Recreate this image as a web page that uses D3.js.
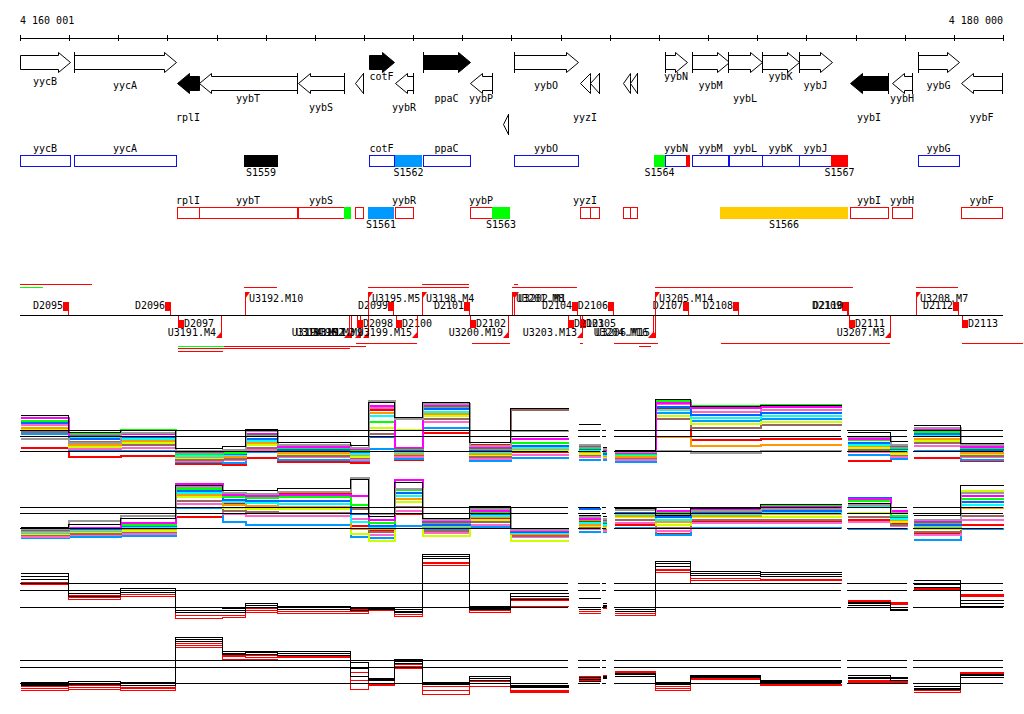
<!DOCTYPE html>
<html><head><meta charset="utf-8">
<script src="https://cdn.jsdelivr.net/npm/d3@7"></script>
<style>
html,body{margin:0;padding:0;background:#fff;}
svg{display:block;}
text{font-family:"DejaVu Sans Mono","Liberation Mono",monospace;font-size:10px;fill:#000;}
</style></head><body>
<svg id="chart" width="1024" height="714"></svg>
<script>
// ---------------- DATA ----------------
const genomeDomain = [4160001, 4180000];
const axisTicks = [4160001,4161000,4162000,4163000,4164000,4165000,4166000,4167000,4168000,4169000,4170000,
  4171000,4172000,4173000,4174000,4175000,4176000,4177000,4178000,4179000,4180000];
const axisEndLabels = [4160001, 4180000];

// genes: name, start, end, strand, row(0 fwd,1 rev,2 rev-lower), filled, startBar, labelTier(-1 none)
const genes = [
  ["yycB",4160001,4161018,"+",0,0,0,1],
  ["yycA",4161100,4163175,"+",0,0,1,2],
  ["rplI",4163195,4163643,"-",1,1,0,5],
  ["yybT",4163643,4165637,"-",1,0,1,3],
  ["yybS",4165657,4166593,"-",1,0,1,4],
  ["",    4166817,4166980,"-",1,0,1,-1],
  ["cotF",4167101,4167610,"+",0,1,0,0],
  ["yybR",4167630,4167997,"-",1,0,1,4],
  ["ppaC",4168200,4169156,"+",0,1,1,3],
  ["yybP",4169156,4169604,"-",1,0,1,3],
  ["",    4169828,4169930,"-",2,0,1,-1],
  ["yybO",4170051,4171353,"+",0,0,1,2],
  ["yyzI",4171394,4171598,"-",1,0,0,5],
  ["",    4171598,4171781,"-",1,0,1,-1],
  ["",    4172269,4172411,"-",1,0,0,-1],
  ["",    4172411,4172554,"-",1,0,1,-1],
  ["yybN",4173124,4173571,"+",0,0,1,0],
  ["yybM",4173673,4174426,"+",0,0,1,2],
  ["yybL",4174405,4175097,"+",0,0,1,3],
  ["yybK",4175097,4175850,"+",0,0,1,0],
  ["yybJ",4175850,4176521,"+",0,0,1,2],
  ["yybI",4176887,4177660,"-",1,1,1,5],
  ["yybH",4177742,4178148,"-",1,0,1,3],
  ["yybG",4178270,4179105,"+",0,0,1,2],
  ["yybF",4179145,4179979,"-",1,0,1,5]
];

// sites: name, start, end, strand, colour
const sites = [
  ["S1559",4164558,4165250,"+","#000000"],
  ["S1562",4167630,4168180,"+","#0099ff"],
  ["S1564",4172900,4173124,"+","#00ff00"],
  ["",     4173551,4173632,"+","#ff0000"],
  ["S1567",4176501,4176847,"+","#ff0000"],
  ["",     4166593,4166735,"-","#00ff00"],
  ["S1561",4167081,4167610,"-","#0099ff"],
  ["S1563",4169604,4169970,"-","#00ff00"],
  ["S1566",4174243,4176847,"-","#ffcc00"]
];

// transcription start/end marks
const dForward = [["D2095",4160978],["D2096",4163053],["D2099",4167590],["D2101",4169136],["D2104",4171333],
  ["D2106",4172065],["D2107",4173591],["D2108",4174609],["D2109",4176826],["D2110",4176847],["D2112",4179085]];
const dReverse = [["D2097",4163216],["D2098",4166857],["D2100",4167651],["D2102",4169156],["D2103",4171150],
  ["D2105",4171394],["D2111",4176867],["D2113",4179166]];
const uForward = [["U3192.M10",4164578],["U3195.M5",4167081],["U3198.M4",4168180],["U3201.M8",4170011],
  ["U3202.M1",4170051],["U3205.M14",4172920],["U3208.M7",4178230]];
const uReverse = [["U3191.M4",4164090],["U3193.M2",4166694],["U3194.M11",4166735],["U3196.M3",4166918],
  ["U3197.M9",4167081],["U3199.M15",4168078],["U3200.M19",4169929],["U3203.M13",4171435],
  ["U3204.M16",4172879],["U3206.M15",4172920],["U3207.M3",4177701]];
// transcription unit extents: start, end, strand, level, colour
const tuLines = [
  [4160001,4161466,"+",1,"#ff0000"],[4160001,4160469,"+",0,"#00ff00"],[4164558,4165230,"+",0,"#ff0000"],
  [4167081,4169136,"+",0,"#ff0000"],[4168180,4169136,"+",1,"#ff0000"],[4170011,4171333,"+",0,"#ff0000"],
  [4170051,4170133,"+",1,"#ff0000"],[4172920,4176948,"+",0,"#ff0000"],[4178230,4179085,"+",0,"#ff0000"],
  [4163215,4164151,"-",1,"#00ff00"],[4164151,4167040,"-",1,"#ff0000"],[4163215,4166715,"-",2,"#ff0000"],
  [4163215,4164131,"-",3,"#ff0000"],[4166837,4168078,"-",0,"#ff0000"],[4169197,4169970,"-",0,"#ff0000"],
  [4171394,4171455,"-",0,"#ff0000"],[4172086,4172981,"-",0,"#ff0000"],[4172594,4172839,"-",1,"#ff0000"],
  [4174263,4177701,"-",0,"#ff0000"],[4179166,4180407,"-",0,"#ff0000"]
];

// expression profile segments (genome intervals with data)
const segStarts = [4160001,4160977,4162036,4163154,4164111,4164579,4165230,4166715,4167081,4167610,4168180,4169136,
  4169970,4171353,4171842,4172086,4172920,4173632,4175056,4176826,4177701,4178169,4179125];
const segEnds   = [4160977,4162036,4163154,4164111,4164579,4165230,4166715,4167081,4167610,4168180,4169136,4169970,
  4171150,4171801,4171923,4172920,4173632,4175056,4176704,4177701,4178047,4179125,4180000];
const refLevels = [0, 1, 1.41];

// rows = segments, columns = conditions (12 series)
const seriesColorsAB = ["#000000","#999999","#ff00ff","#00ff00","#0066ff","#00ffff","#ff9900","#ccff00","#996666","#ff66cc","#0099ff","#ff0000"];
const trackA = [
  [2.4,0.9,2.3,2.1,1.95,2.25,1.6,1.5,1.35,1.8,1.2,0.3],
  [1.25,0.6,1.1,1.2,0.85,1.0,0.5,0.35,0.7,0.2,0.05,-0.3],
  [1.4,1.3,1.2,1.45,1.0,0.9,0.75,0.6,0.45,0.3,0.1,-0.25],
  [0.2,0.1,0.0,-0.1,-0.15,-0.25,-0.3,-0.4,-0.5,-0.6,-0.7,-0.8],
  [0.35,0.15,0.05,-0.05,-0.15,-0.2,-0.3,-0.35,-0.45,-0.55,-0.75,-0.9],
  [1.5,1.4,1.2,1.05,0.9,0.75,0.6,0.45,0.3,0.15,0.0,-0.4],
  [0.6,0.5,0.35,0.25,0.15,0.05,-0.05,-0.15,-0.25,-0.35,-0.5,-0.7],
  [0.4,0.3,0.2,0.1,0.0,-0.1,-0.2,-0.3,-0.4,-0.5,-0.6,-0.75],
  [3.3,3.4,3.1,2.0,1.0,2.4,2.6,1.6,1.2,2.9,0.2,2.8],
  [2.27,2.2,0.3,0.2,0.1,0.0,-0.1,1.5,-0.2,-0.3,-0.45,-0.55],
  [3.3,3.2,3.1,3.0,2.85,2.7,2.55,2.4,2.2,2.0,1.6,1.27],
  [0.6,0.4,0.3,0.2,0.1,0.0,-0.1,-0.2,-0.3,-0.45,-0.6,0.5],
  [2.87,1.4,0.9,0.6,0.4,0.3,0.2,0.1,2.8,-0.2,-0.4,0.0],
  [1.8,0.5,0.4,0.3,0.2,0.1,0.0,-0.1,-0.2,-0.3,-0.5,-0.1],
  [0.3,0.2,0.1,0.0,-0.1,-0.2,-0.25,-0.3,-0.35,-0.4,-0.5,-0.2],
  [0.1,0.0,-0.05,-0.1,-0.15,-0.2,-0.3,-0.35,-0.4,-0.5,-0.65,0.05],
  [3.45,0.07,3.3,3.4,3.0,2.8,1.0,2.4,2.2,3.2,2.6,2.9],
  [3.0,-0.07,2.9,3.05,2.5,2.3,0.4,1.9,1.6,2.7,2.1,0.8],
  [3.1,0.1,3.0,3.15,2.6,2.4,0.5,2.0,1.8,2.8,2.2,0.9],
  [1.27,1.0,0.9,0.8,0.6,0.5,0.4,0.3,0.15,0.0,-0.2,-0.6],
  [0.7,0.5,0.4,0.3,0.2,0.1,0.0,-0.1,-0.2,-0.3,-0.45,-0.3],
  [1.75,1.6,1.5,1.35,1.2,1.05,0.9,0.75,0.6,0.4,0.1,-0.4],
  [0.55,0.45,0.35,0.25,0.15,0.05,-0.05,-0.15,-0.25,-0.35,-0.5,-0.6]
];
const trackB = [
  [0.05,0.0,-0.05,-0.1,-0.15,-0.2,-0.25,-0.3,-0.4,-0.5,-0.6,-0.45],
  [0.3,0.55,0.1,0.05,0.0,-0.05,-0.1,-0.2,-0.3,-0.4,-0.55,-0.3],
  [0.7,0.9,0.4,0.3,0.2,0.1,0.0,-0.1,-0.2,-0.3,-0.45,-0.2],
  [2.9,2.8,3.0,2.7,2.55,2.4,2.25,2.1,1.9,1.7,1.4,0.8],
  [2.55,2.4,2.3,2.1,1.95,1.8,1.6,1.4,1.2,1.0,0.5,1.7],
  [2.55,2.35,2.2,2.05,1.9,1.75,1.55,1.35,1.15,0.9,0.3,2.3],
  [2.65,2.5,2.3,2.1,1.9,1.7,1.5,1.3,1.1,0.9,0.3,2.4],
  [3.3,3.4,2.2,1.6,1.0,0.5,0.0,-0.3,1.3,0.7,-0.5,0.2],
  [0.8,1.0,0.6,0.4,0.2,0.1,0.0,-0.8,-0.2,-0.4,-0.6,-0.1],
  [3.1,2.7,3.3,2.6,2.4,2.2,2.0,1.8,1.5,1.2,0.2,1.0],
  [0.7,0.6,0.5,0.4,0.3,0.2,0.1,-0.45,-0.1,-0.25,0.0,0.6],
  [1.45,1.3,1.2,1.1,1.0,0.9,0.8,0.6,0.45,0.3,0.15,0.7],
  [0.0,-0.05,-0.1,-0.15,-0.2,-0.25,-0.3,-0.8,-0.45,-0.55,-0.35,-0.2],
  [0.9,0.8,0.7,0.6,1.3,0.4,0.3,0.2,0.1,0.0,-0.2,0.5],
  [0.8,0.7,0.6,0.5,0.4,0.3,0.2,0.1,0.0,-0.1,-0.2,0.3],
  [1.35,1.25,1.3,1.4,1.1,1.0,0.9,0.8,0.6,0.4,0.1,0.3],
  [0.9,1.0,1.2,1.1,0.8,0.6,0.5,0.3,0.1,-0.1,-0.4,-0.3],
  [1.3,1.2,1.35,1.4,1.1,1.0,0.9,0.8,0.6,0.4,0.1,0.5],
  [1.6,1.3,1.5,1.55,1.2,1.1,1.0,0.8,0.6,0.4,0.1,0.5],
  [1.7,1.6,2.0,1.9,2.05,1.5,2.07,1.1,0.8,0.5,0.0,0.6],
  [1.0,1.1,1.2,0.9,0.8,0.7,0.6,0.5,0.3,0.2,0.0,0.4],
  [0.9,0.6,0.5,0.4,0.3,0.2,0.1,0.0,-0.2,-0.4,-0.7,-0.3],
  [2.85,2.4,2.2,2.0,1.8,1.6,1.4,2.55,0.9,0.6,0.0,0.3]
];
// rows = segments, columns = 3 black + 3 red replicates
const seriesColorsCD = ["#000000","#000000","#000000","#ff0000","#ff0000","#ff0000"];
const trackC = [
  [1.98,1.8,1.62,1.5,1.44,1.38],[1.02,0.84,0.66,0.72,0.6,0.48],[1.14,1.02,0.9,0.9,0.78,0.66],
  [0,-0.18,-0.3,-0.3,-0.48,-0.66],[-0.06,-0.18,-0.3,-0.3,-0.48,-0.6],[0.24,0.12,0,-0.06,-0.18,-0.3],
  [0.06,0,-0.12,-0.12,-0.24,-0.36],[0,-0.06,-0.18,-0.12,-0.24,-0.36],[0,-0.06,-0.12,-0.06,-0.12,-0.18],
  [-0.12,-0.24,-0.3,-0.3,-0.42,-0.54],[3.11,2.99,2.87,2.63,2.57,2.46],[0.06,-0.06,-0.12,-0.12,-0.18,-0.3],
  [0.84,0.66,0.48,0.54,0.42,0.06],[0.54,0,-0.12,-0.12,-0.24,-0.36],[0.24,0.12,0.06,0.06,0,-0.06],
  [0,-0.12,-0.24,-0.24,-0.36,-0.48],[2.7,2.57,2.4,2.22,2.16,2.04],[2.1,1.98,1.86,1.68,1.56,1.44],
  [2.04,1.92,1.8,1.62,1.56,1.44],[0.3,0.24,0.12,0.42,0.36,0.3],[0,-0.12,-0.18,0.3,0.24,0.18],
  [1.56,1.38,1.2,1.14,1.08,1.02],[0.42,0.24,0.06,0.78,0.72,0.66]
];
const trackD = [
  [0.06,-0.06,-0.12,-0.18,-0.31,-0.43],[0.12,0,-0.06,-0.12,-0.25,-0.37],[0.06,0,-0.12,-0.25,-0.31,-0.43],
  [2.88,2.76,2.64,2.52,2.39,2.27],[2.02,1.9,1.84,1.72,1.66,1.53],[2.02,1.96,1.84,1.72,1.6,1.53],
  [2.02,1.9,1.78,1.66,1.6,1.41],[1.29,0.92,0.43,0.67,0.18,-0.37],[0.31,0.25,0.18,0,-0.06,-0.12],
  [1.47,1.35,1.23,1.17,1.04,0.92],[0.06,0,-0.06,-0.18,-0.43,-0.67],[0.43,0.31,0.18,0.12,0,-0.18],
  [-0.12,-0.18,-0.25,-0.43,-0.49,-0.55],[0.37,0.25,0.12,0.43,0.31,0.18],[0.43,0.37,0.31,0.49,0.43,0.37],
  [0.61,0.55,0.43,0.74,0.67,0.61],[0.06,0,-0.06,-0.18,-0.31,-0.43],[0.49,0.43,0.37,0.37,0.31,0.25],
  [0.18,0.12,0.06,0.06,-0.06,-0.12],[0.49,0.37,0.31,0.18,0.12,0.06],[0.37,0.31,0.18,0.12,0.06,0],
  [-0.18,-0.31,-0.37,-0.37,-0.43,-0.55],[0.55,0.49,0.37,0.67,0.61,0.55]
];

// ---------------- DRAWING ----------------
const svg = d3.select("#chart");
const x = d3.scaleLinear().domain(genomeDomain).range([20, 1003]);
const X = v => Math.round(x(v)) + 0.5;
const fmt = d3.formatLocale({decimal:".", thousands:" ", grouping:[3], currency:["",""]}).format(",");

// axis
const axisG = svg.append("g").attr("transform", "translate(0,38)");
axisG.call(d3.axisBottom(x).tickValues(axisTicks).tickSizeInner(3).tickSizeOuter(0).tickFormat(""));
axisG.selectAll(".tick line").attr("y1", -3).attr("y2", 3).attr("stroke", "#000");
axisG.select(".domain").attr("stroke", "#000");
axisG.attr("shape-rendering", "crispEdges");
svg.append("g").selectAll("text").data(axisEndLabels).join("text")
  .attr("x", (d, i) => x(d)).attr("y", 24)
  .attr("text-anchor", (d, i) => i === 0 ? "start" : "end")
  .text(d => fmt(d));

// gene arrows
const rowCenter = [62, 83, 124];
const tierBaseline = [80, 85, 89, 102, 111, 121];
function arrowPath(x0, x1, strand, cy) {
  const hh = 10, bh = 7, head = Math.min(12, x1 - x0);
  if (strand === "+") {
    const hx = x1 - head;
    return `M${x0},${cy-bh}L${hx},${cy-bh}L${hx},${cy-hh}L${x1},${cy}L${hx},${cy+hh}L${hx},${cy+bh}L${x0},${cy+bh}Z`;
  }
  const hx = x0 + head;
  return `M${x1},${cy-bh}L${hx},${cy-bh}L${hx},${cy-hh}L${x0},${cy}L${hx},${cy+hh}L${hx},${cy+bh}L${x1},${cy+bh}Z`;
}
const geneG = svg.append("g");
geneG.selectAll("path").data(genes).join("path")
  .attr("d", g => arrowPath(Math.round(x(g[1])) + 0.5, Math.round(x(g[2])) + 0.5, g[3], rowCenter[g[4]] + 0.5))
  .attr("fill", g => g[5] ? "#000" : "#fff").attr("stroke", "#000").attr("stroke-width", 1);
geneG.selectAll("line").data(genes.filter(g => g[6])).join("line")
  .attr("x1", g => X(g[3] === "+" ? g[1] : g[2])).attr("x2", g => X(g[3] === "+" ? g[1] : g[2]))
  .attr("y1", g => rowCenter[g[4]] - 10).attr("y2", g => rowCenter[g[4]] + 11)
  .attr("stroke", "#000").attr("shape-rendering", "crispEdges");
geneG.selectAll("text").data(genes.filter(g => g[7] >= 0)).join("text")
  .attr("x", g => (x(g[1]) + x(g[2])) / 2).attr("y", g => tierBaseline[g[7]])
  .attr("text-anchor", "middle").text(g => g[0]);

// gene boxes
const boxTop = {"+": 155, "-": 207};
const boxG = svg.append("g");
const boxGenes = genes.filter(g => g[4] < 2);
boxG.selectAll("rect").data(boxGenes).join("rect")
  .attr("x", g => X(g[1])).attr("width", g => Math.max(1, Math.round(x(g[2])) - Math.round(x(g[1]))))
  .attr("y", g => boxTop[g[3]] + 0.5).attr("height", 11)
  .attr("fill", "none").attr("stroke", g => g[3] === "+" ? "#1010ee" : "#ff0000")
  .attr("shape-rendering", "crispEdges");
boxG.selectAll("text").data(boxGenes.filter(g => g[0])).join("text")
  .attr("x", g => (x(g[1]) + x(g[2])) / 2).attr("y", g => boxTop[g[3]] - 3)
  .attr("text-anchor", "middle").text(g => g[0]);

// sites
const siteG = svg.append("g");
siteG.selectAll("rect").data(sites).join("rect")
  .attr("x", s => Math.round(x(s[1]))).attr("width", s => Math.round(x(s[2])) - Math.round(x(s[1])))
  .attr("y", s => boxTop[s[3]]).attr("height", 12).attr("fill", s => s[4])
  .attr("shape-rendering", "crispEdges");
siteG.selectAll("text").data(sites.filter(s => s[0])).join("text")
  .attr("x", s => (x(s[1]) + x(s[2])) / 2).attr("y", s => boxTop[s[3]] + 21)
  .attr("text-anchor", "middle").text(s => s[0]);

// transcription section
const tsG = svg.append("g").attr("shape-rendering", "crispEdges");
const baseY = 315;
tsG.append("line").attr("x1", x(genomeDomain[0])).attr("x2", x(genomeDomain[1]))
  .attr("y1", baseY + 0.5).attr("y2", baseY + 0.5).attr("stroke", "#000");
const tuY = {"+": [287, 284], "-": [343, 346, 348, 351]};
tsG.selectAll(".tu").data(tuLines).join("line").attr("class", "tu")
  .attr("x1", t => x(t[0])).attr("x2", t => x(t[1]))
  .attr("y1", t => tuY[t[2]][t[3]] + 0.5).attr("y2", t => tuY[t[2]][t[3]] + 0.5)
  .attr("stroke", t => t[4]);
// D forward
const dfG = tsG.append("g");
dfG.selectAll("rect").data(dForward).join("rect")
  .attr("x", d => Math.round(x(d[1])) - 5).attr("y", 302).attr("width", 6).attr("height", 9).attr("fill", "#ff0000");
dfG.selectAll("line").data(dForward).join("line")
  .attr("x1", d => X(d[1])).attr("x2", d => X(d[1])).attr("y1", 302).attr("y2", baseY).attr("stroke", "#ff0000");
dfG.selectAll("text").data(dForward).join("text")
  .attr("x", d => x(d[1]) - 5).attr("y", 309).attr("text-anchor", "end").text(d => d[0]);
// D reverse
const drG = tsG.append("g");
drG.selectAll("rect").data(dReverse).join("rect")
  .attr("x", d => Math.round(x(d[1]))).attr("y", 320).attr("width", 6).attr("height", 8).attr("fill", "#ff0000");
drG.selectAll("line").data(dReverse).join("line")
  .attr("x1", d => X(d[1])).attr("x2", d => X(d[1])).attr("y1", baseY + 1).attr("y2", 328).attr("stroke", "#ff0000");
drG.selectAll("text").data(dReverse).join("text")
  .attr("x", d => x(d[1]) + 6).attr("y", 327).attr("text-anchor", "start").text(d => d[0]);
// U forward
const ufG = tsG.append("g");
ufG.selectAll("line").data(uForward).join("line")
  .attr("x1", d => X(d[1])).attr("x2", d => X(d[1])).attr("y1", 292).attr("y2", baseY).attr("stroke", "#ff0000");
ufG.selectAll("path").data(uForward).join("path")
  .attr("d", d => { const p = Math.round(x(d[1])); return `M${p},292L${p+5},292L${p},299Z`; })
  .attr("fill", "#ff0000").attr("shape-rendering", "auto");
ufG.selectAll("text").data(uForward).join("text")
  .attr("x", d => x(d[1]) + 4).attr("y", 302).text(d => d[0]);
// U reverse
const urG = tsG.append("g");
urG.selectAll("line").data(uReverse).join("line")
  .attr("x1", d => X(d[1])).attr("x2", d => X(d[1])).attr("y1", baseY + 1).attr("y2", 338).attr("stroke", "#ff0000");
urG.selectAll("path").data(uReverse).join("path")
  .attr("d", d => { const p = Math.round(x(d[1])) + 1; return `M${p},338L${p-6},338L${p},331Z`; })
  .attr("fill", "#ff0000").attr("shape-rendering", "auto");
urG.selectAll("text").data(uReverse).join("text")
  .attr("x", d => x(d[1]) - 5).attr("y", 336).attr("text-anchor", "end").text(d => d[0]);

// expression tracks
const islands = [];
segStarts.forEach((s, i) => {
  if (i === 0 || s !== segEnds[i - 1]) islands.push([s, segEnds[i]]);
  else islands[islands.length - 1][1] = segEnds[i];
});
const tracks = [
  {rows: trackA, colors: seriesColorsAB, base: 451, unit: 15, w: 2},
  {rows: trackB, colors: seriesColorsAB, base: 528, unit: 15, w: 2},
  {rows: trackC, colors: seriesColorsCD, base: 607, unit: 17, w: 1},
  {rows: trackD, colors: seriesColorsCD, base: 683, unit: 16, w: 1}
];
tracks.forEach(t => {
  const y = d3.scaleLinear().domain([0, 1]).range([t.base, t.base - t.unit]);
  const Y = v => Math.round(y(v)) + 0.5;
  const g = svg.append("g").attr("shape-rendering", "crispEdges");
  const nSeries = t.rows[0].length;
  const seriesIdx = d3.range(nSeries).reverse();
  const line = d3.line().defined(p => !p.gap).x(p => Math.round(x(p.x)) + 0.5).y(p => Y(p.v));
  seriesIdx.forEach(j => {
    const pts = [];
    t.rows.forEach((row, i) => {
      pts.push({x: segStarts[i], v: row[j]}, {x: segEnds[i], v: row[j]});
      if (i < t.rows.length - 1 && segStarts[i + 1] !== segEnds[i]) pts.push({gap: true});
    });
    g.append("path").attr("d", line(pts)).attr("fill", "none").attr("stroke", t.colors[j])
      .attr("stroke-width", j === 0 ? 1 : t.w);
  });
  islands.forEach(isl => {
    refLevels.forEach(r => {
      g.append("line").attr("x1", x(isl[0])).attr("x2", x(isl[1]))
        .attr("y1", Y(r)).attr("y2", Y(r)).attr("stroke", "#000");
    });
  });
});
</script></body></html>
